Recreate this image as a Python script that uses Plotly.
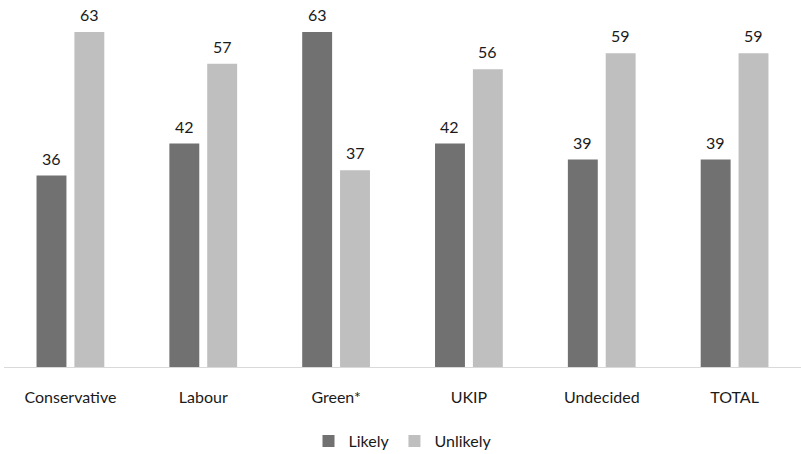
import plotly.graph_objects as go

categories = ["Conservative", "Labour", "Green*", "UKIP", "Undecided", "TOTAL"]
likely = [36, 42, 63, 42, 39, 39]
unlikely = [63, 57, 37, 56, 59, 59]
series_names = ["Likely", "Unlikely"]
colors = ["#717171", "#bfbfbf"]

FONT = "Lato, 'Open Sans', sans-serif"
TEXT_COLOR = "#1a1a1a"
BARGAP = 0.43
BARGROUPGAP = 0.21

fig = go.Figure()
for name, vals, col in zip(series_names, [likely, unlikely], colors):
    fig.add_trace(go.Bar(name=name, x=categories, y=vals, marker=dict(color=col, line=dict(width=0))))

# value labels above bars
slot = (1 - BARGAP) / 2
for s, vals in enumerate([likely, unlikely]):
    off = (s - 0.5) * slot
    for i, v in enumerate(vals):
        fig.add_annotation(x=i + off, y=v, xref="x", yref="y", text=str(v), showarrow=False,
                           yanchor="bottom", yshift=6,
                           font=dict(family=FONT, size=16, color=TEXT_COLOR))

fig.update_layout(
    width=801, height=454,
    margin=dict(l=4, r=0, t=0, b=87, autoexpand=False),
    paper_bgcolor="white", plot_bgcolor="white",
    barmode="group", bargap=BARGAP, bargroupgap=BARGROUPGAP,
    font=dict(family=FONT, size=16, color=TEXT_COLOR),
    showlegend=True,
    legend=dict(orientation="h", x=0.5, xanchor="center", y=-0.2016, yanchor="middle",
                font=dict(family=FONT, size=16, color=TEXT_COLOR), traceorder="normal"),
)
fig.update_xaxes(showline=True, linecolor="#d9d9d9", linewidth=1, showgrid=False, automargin=False,
                 ticks="", ticklabelstandoff=16, tickfont=dict(family=FONT, size=16, color=TEXT_COLOR))
fig.update_yaxes(range=[0, 69.0], showgrid=False, zeroline=False, showticklabels=False, showline=False,
                 automargin=False)

fig.write_html("out.html", config={"displayModeBar": False},
               post_script="document.body.style.margin='0';document.body.style.overflow='hidden';")
